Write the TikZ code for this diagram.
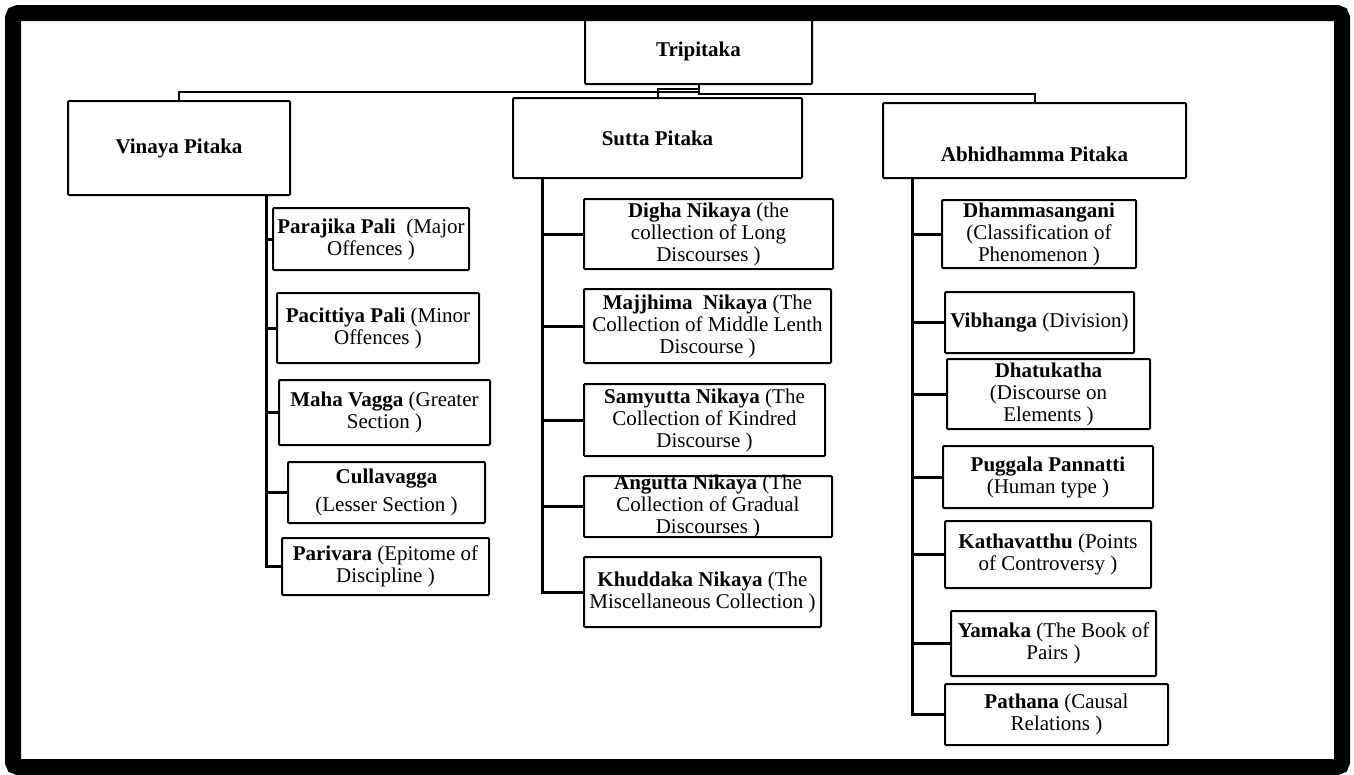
\documentclass[tikz,border=0pt]{standalone}
\usepackage{fontspec}
\setmainfont{Liberation Serif}
\usepackage{tikz}

\begin{document}
\begin{tikzpicture}[x=1pt, y=-1pt,
				pitaka/.style={draw, rectangle, line width=2pt, rounded corners=1pt, inner sep=2pt},
				book/.style={draw, rectangle, line width=2pt, rounded corners=1pt, inner sep=2pt},
				bus/.style={draw, line width=2pt},
				trunk/.style={draw, line width=3pt},
				every text node part/.style={align=center},
				font=\fontsize{21}{22}\selectfont]
				\useasboundingbox (0,0) rectangle (1354,774);
				
				\node[pitaka, minimum width=227, minimum height=66](trip) at (698.5,51) {\textbf{Tripitaka}};
				
				\node[pitaka, minimum width=222, minimum height=94](vinaya) at (179,148) {\textbf{Vinaya Pitaka}};
				\node[pitaka, minimum width=289, minimum height=80](sutta) at (657.5,138) {\textbf{Sutta Pitaka}};
				\node[pitaka, minimum width=303, minimum height=75, text height=47pt, text depth=5pt](abhi) at (1034.5,140.5) {\textbf{Abhidhamma Pitaka}};
				
				% Vinaya Pitaka
				\node[book, minimum width=196, minimum height=62](parajika) at (371,239) {\textbf{Parajika Pali}\ \ (Major\\Offences )};
				\node[book, minimum width=202, minimum height=70](pacittiya) at (378,328) {\textbf{Pacittiya Pali} (Minor\\Offences )};
				\node[book, minimum width=211, minimum height=65](mahavagga) at (384.5,412.5) {\textbf{Maha Vagga} (Greater\\Section )};
				\node[book, minimum width=197, minimum height=61](cullavagga) at (386.5,492.5) {\textbf{Cullavagga}\\[6pt](Lesser Section )};
				\node[book, minimum width=207, minimum height=57](parivara) at (385.5,566.5) {\textbf{Parivara} (Epitome of\\Discipline )};
				
				% Sutta Pitaka
				\node[book, minimum width=249, minimum height=70](digha) at (708.5,234) {\textbf{Digha Nikaya} (the\\collection of Long\\Discourses )};
				\node[book, minimum width=247, minimum height=74](majjhima) at (707.5,326) {\textbf{Majjhima\ \ Nikaya} (The\\Collection of Middle Lenth\\Discourse )};
				\node[book, minimum width=241, minimum height=72](samyutta) at (704.5,420) {\textbf{Samyutta Nikaya} (The\\Collection of Kindred\\Discourse )};
				\node[book, minimum width=248, minimum height=61](angutta) at (708,506.5) {};
				\node(anguttatext) at (angutta) {\textbf{Angutta Nikaya} (The\\Collection of Gradual\\Discourses )};
				\node[book, minimum width=237, minimum height=70](khuddaka) at (702.5,592) {\textbf{Khuddaka Nikaya} (The\\Miscellaneous Collection )};
				
				% Abhidhamma Pitaka
				\node[book, minimum width=194, minimum height=68](dhamma) at (1039,234) {\textbf{Dhammasangani}\\(Classification of\\Phenomenon )};
				\node[book, minimum width=189, minimum height=61](vibhanga) at (1039.5,322.5) {\textbf{Vibhanga} (Division)};
				\node[book, minimum width=203, minimum height=70](dhatu) at (1048.5,394) {\textbf{Dhatukatha}\\(Discourse on\\Elements )};
				\node[book, minimum width=210, minimum height=62](puggala) at (1048,477) {\textbf{Puggala Pannatti}\\(Human type )};
				\node[book, minimum width=206, minimum height=67](katha) at (1048,554.5) {\textbf{Kathavatthu} (Points\\of Controversy )};
				\node[book, minimum width=205, minimum height=65](yamaka) at (1053.5,643.5) {\textbf{Yamaka} (The Book of\\Pairs )};
				\node[book, minimum width=223, minimum height=61](pathana) at (1056.5,714.5) {\textbf{Pathana} (Causal\\Relations )};
				
				\draw[bus] (trip.south) -- ++(0,7) -| (vinaya.north);
				\draw[bus] ([yshift=-4pt]trip.south) -| (sutta.north);
				\draw[bus] (trip.south) -- ++(0,9) -| (abhi.north);
				
				\draw[trunk] ([xshift=-25pt]vinaya.south east) |- (parajika.west);
				\draw[trunk] ([xshift=-25pt]vinaya.south east) |- (pacittiya.west);
				\draw[trunk] ([xshift=-25pt]vinaya.south east) |- (mahavagga.west);
				\draw[trunk] ([xshift=-25pt]vinaya.south east) |- (cullavagga.west);
				\draw[trunk] ([xshift=-25pt]vinaya.south east) |- (parivara.west);
				
				\draw[trunk] ([xshift=30pt]sutta.south west) |- (digha.west);
				\draw[trunk] ([xshift=30pt]sutta.south west) |- (majjhima.west);
				\draw[trunk] ([xshift=30pt]sutta.south west) |- (samyutta.west);
				\draw[trunk] ([xshift=30pt]sutta.south west) |- (angutta.west);
				\draw[trunk] ([xshift=30pt]sutta.south west) |- (khuddaka.west);
				
				\draw[trunk] ([xshift=30pt]abhi.south west) |- (dhamma.west);
				\draw[trunk] ([xshift=30pt]abhi.south west) |- (vibhanga.west);
				\draw[trunk] ([xshift=30pt]abhi.south west) |- (dhatu.west);
				\draw[trunk] ([xshift=30pt]abhi.south west) |- (puggala.west);
				\draw[trunk] ([xshift=30pt]abhi.south west) |- (katha.west);
				\draw[trunk] ([xshift=30pt]abhi.south west) |- (yamaka.west);
				\draw[trunk] ([xshift=30pt]abhi.south west) |- (pathana.west);
				
				% page frame
				\draw[line width=16pt, rounded corners=5pt] (13,13) rectangle (1342,767);
			\end{tikzpicture}
\end{document}
